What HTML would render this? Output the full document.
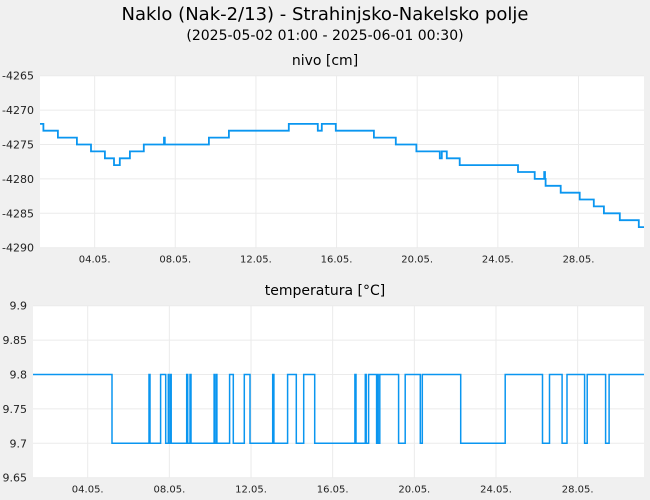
<!DOCTYPE html>
<html><head><meta charset="utf-8"><style>
body{margin:0;background:#f0f0f0;font-family:"Liberation Sans","DejaVu Sans",sans-serif}
svg{display:block}
</style></head><body>
<svg id="c" width="650" height="500" font-family="DejaVu Sans, Liberation Sans, sans-serif">
<rect width="650" height="500" fill="#f0f0f0"/>
<text x="325" y="20" text-anchor="middle" font-size="18" fill="#000">Naklo (Nak-2/13) - Strahinjsko-Nakelsko polje</text>
<text x="325" y="40" text-anchor="middle" font-size="14" fill="#000">(2025-05-02 01:00 - 2025-06-01 00:30)</text>
<text x="325" y="65" text-anchor="middle" font-size="14" fill="#000">nivo [cm]</text>
<text x="325" y="295" text-anchor="middle" font-size="14" fill="#000">temperatura [°C]</text>
<g id="top"></g>
<g id="bot"></g>
</svg>
<script>
const xTickDays=[4,8,12,16,20,24,28];
const xTickLabels=["04.05.","08.05.","12.05.","16.05.","20.05.","24.05.","28.05."];
const nivoTicks=[-4265,-4270,-4275,-4280,-4285,-4290];
const tempTicks=[9.9,9.85,9.8,9.75,9.7,9.65];
const tempTickLabels=["9.9","9.85","9.8","9.75","9.7","9.65"];
const nivoTimes=[1.29,1.46,2.18,3.12,3.82,4.51,4.96,5.25,5.75,6.44,7.44,7.48,9.67,10.66,13.63,15.07,15.27,15.96,17.85,18.94,19.96,21.12,21.22,21.47,22.11,25.0,25.83,26.30,26.34,26.37,27.12,28.06,28.76,28.81,29.26,30.05,30.99,31.25];
const nivoValues=[-4272,-4273,-4274,-4275,-4276,-4277,-4278,-4277,-4276,-4275,-4274,-4275,-4274,-4273,-4272,-4273,-4272,-4273,-4274,-4275,-4276,-4277,-4276,-4277,-4278,-4279,-4280,-4279,-4280,-4281,-4282,-4283,-4284,-4284,-4285,-4286,-4287];
const tempTimes=[1.32,5.19,7.00,7.05,7.57,7.82,7.95,7.98,8.06,8.09,8.85,8.90,9.01,9.06,10.19,10.22,10.30,10.33,10.95,11.13,11.67,11.95,13.06,13.12,13.79,14.22,14.58,15.12,17.09,17.14,17.60,17.64,17.76,18.15,18.20,18.23,18.31,19.23,19.55,20.29,20.39,22.27,24.45,26.28,26.62,27.24,27.48,28.34,28.47,29.37,29.54,31.25];
const tempValues=[9.8,9.7,9.8,9.7,9.8,9.7,9.8,9.7,9.8,9.7,9.8,9.7,9.8,9.7,9.8,9.7,9.8,9.7,9.8,9.7,9.8,9.7,9.8,9.7,9.8,9.7,9.8,9.7,9.8,9.7,9.8,9.7,9.8,9.7,9.8,9.7,9.8,9.7,9.8,9.7,9.8,9.7,9.8,9.7,9.8,9.7,9.8,9.7,9.8,9.7,9.8];
const NS='http://www.w3.org/2000/svg';
function mk(p,t,a){const e=document.createElementNS(NS,t);for(const k in a)e.setAttribute(k,a[k]);p.appendChild(e);return e;}
function panel(g,L,R,T,B,d0,d1,v0,v1,yt,ytl,times,vals,lw,nm){
  const sx=d=>L+(d-d0)/(d1-d0)*(R-L);
  const sy=v=>B-(v-v0)/(v1-v0)*(B-T);
  const bg=mk(g,'rect',{x:L,y:T,width:R-L,height:B-T,fill:'#fff'});
  
  
  yt.forEach((v,i)=>{
    const ln=mk(g,'line',{x1:L,x2:R,y1:sy(v),y2:sy(v),stroke:'#ebebeb','stroke-width':1});
    
    
    const t=mk(g,'text',{x:L-6,y:sy(v)+4,'text-anchor':'end','font-size':11,fill:'#222'});
    t.textContent=ytl[i];
    
    
  });
  xTickDays.forEach((d,i)=>{
    const ln=mk(g,'line',{x1:sx(d),x2:sx(d),y1:T,y2:B,stroke:'#ebebeb','stroke-width':1});
    
    
    const t=mk(g,'text',{x:sx(d),y:B+15,'text-anchor':'middle','font-size':10,fill:'#222'});
    t.textContent=xTickLabels[i];
    
    
  });
  let p='';
  const n=Math.min(vals.length,times.length-1);
  for(let i=0;i<n;i++){
    const x0=sx(times[i]),x1=sx(times[i+1]),y=sy(vals[i]);
    p+=(i===0?'M':'L')+x0.toFixed(1)+','+y.toFixed(1)+'L'+x1.toFixed(1)+','+y.toFixed(1);
  }
  const path=mk(g,'path',{d:p,fill:'none',stroke:'#0a96f0','stroke-width':lw});
  
  
}
panel(document.getElementById('top'),40,644,75.7,247.7,1.29,31.25,-4290,-4265,nivoTicks,nivoTicks.map(String),nivoTimes,nivoValues,1.8,'nivo-line');
panel(document.getElementById('bot'),33,644,305.7,477.7,1.32,31.25,9.65,9.9,tempTicks,tempTickLabels,tempTimes,tempValues,1.5,'temperature-line');
</script>
</body></html>
